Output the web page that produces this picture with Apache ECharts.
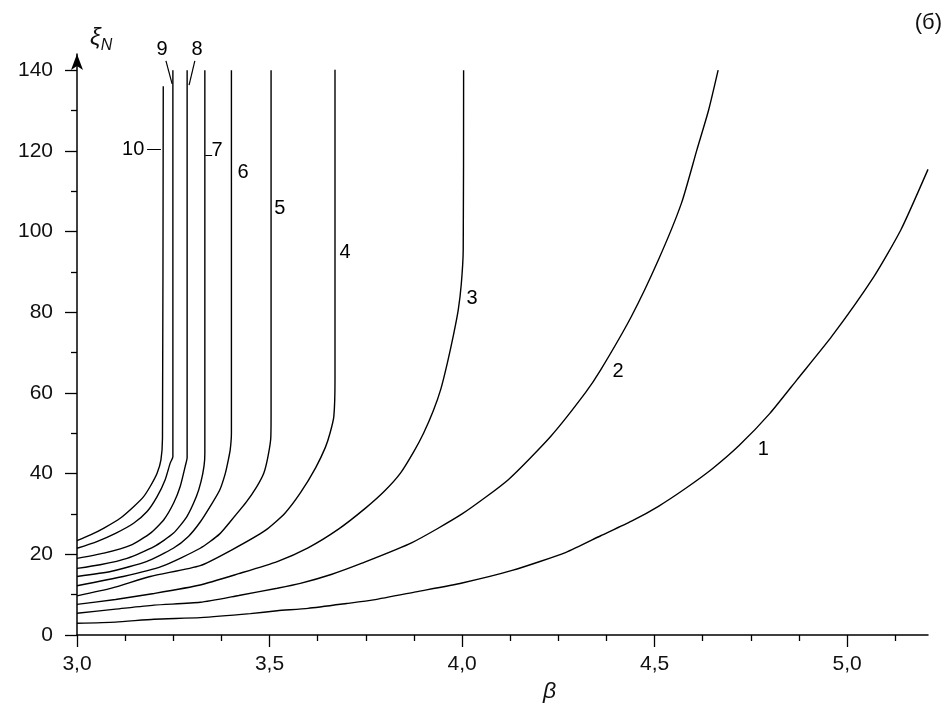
<!DOCTYPE html>
<html><head><meta charset="utf-8">
<script src="https://cdn.jsdelivr.net/npm/echarts@6/dist/echarts.min.js"></script>
<style>html,body{margin:0;padding:0;background:#fff}#c{width:946px;height:722px}</style>
</head><body><div id="c"></div>
<script>
// Tick labels
var xTicks = [3.0, 3.5, 4.0, 4.5, 5.0];
var yTicks = [0, 20, 40, 60, 80, 100, 120, 140];
// Curves: [beta, xi_N]
var curve1 = [[3.0,2.9],[3.1,3.2],[3.2,3.9],[3.32,4.3],[3.45,5.3],[3.52,6.0],[3.6,6.6],[3.7,7.8],[3.77,8.7],[3.88,10.7],[4.0,12.9],[4.13,16.0],[4.27,20.5],[4.36,24.6],[4.44,28.2],[4.51,31.9],[4.58,36.3],[4.65,41.2],[4.72,47.0],[4.80,55.0],[4.87,63.3],[4.96,74.0],[5.07,88.9],[5.14,100.5],[5.21,115.4]];
var curve2 = [[3.0,5.4],[3.1,6.4],[3.2,7.4],[3.32,8.1],[3.42,9.8],[3.52,11.6],[3.58,12.8],[3.66,15.0],[3.74,17.8],[3.87,22.9],[4.0,30.0],[4.12,38.5],[4.23,49.2],[4.32,60.0],[4.36,65.7],[4.44,79.0],[4.51,93.0],[4.57,107.1],[4.61,120.3],[4.64,130.0],[4.665,140]];
var curve3 = [[3.0,7.6],[3.1,8.8],[3.2,10.3],[3.32,12.4],[3.42,15.2],[3.52,18.2],[3.6,21.6],[3.68,26.3],[3.75,31.5],[3.80,35.8],[3.84,40.1],[3.875,45.5],[3.90,50.0],[3.925,55.5],[3.945,61.0],[3.962,67.5],[3.978,74.5],[3.99,80.5],[3.998,87.0],[4.003,95.5],[4.004,140]];
var curve4 = [[3.0,9.7],[3.09,11.6],[3.19,14.5],[3.32,17.2],[3.40,21.0],[3.49,26.0],[3.54,30.2],[3.58,35.2],[3.62,41.5],[3.645,46.5],[3.657,50.0],[3.667,54.2],[3.670,63.3],[3.670,140]];
var curve5 = [[3.0,12.2],[3.12,14.5],[3.22,17.0],[3.32,21.5],[3.37,25.0],[3.41,29.5],[3.44,33.0],[3.467,36.8],[3.485,40.1],[3.495,43.8],[3.503,48.5],[3.504,54.2],[3.504,140]];
var curve6 = [[3.0,14.5],[3.09,15.8],[3.18,18.2],[3.25,21.5],[3.29,24.5],[3.32,28.0],[3.35,32.5],[3.371,36.0],[3.385,40.0],[3.393,43.4],[3.398,46.0],[3.401,50.0],[3.401,140]];
var curve7 = [[3.0,16.5],[3.06,17.4],[3.13,19.0],[3.2,21.9],[3.25,25.2],[3.285,29.3],[3.31,34.3],[3.322,38.0],[3.33,42.0],[3.332,45.0],[3.332,140]];
var curve8 = [[3.0,19.0],[3.07,20.3],[3.14,22.3],[3.19,25.2],[3.225,28.5],[3.251,32.7],[3.268,36.8],[3.281,41.8],[3.286,44.0],[3.286,140]];
var curve9 = [[3.0,21.5],[3.05,23.1],[3.10,25.2],[3.147,27.7],[3.182,30.6],[3.208,34.3],[3.229,38.5],[3.242,42.6],[3.249,44.2],[3.249,140]];
var curve10 = [[3.0,23.4],[3.035,24.8],[3.07,26.5],[3.113,29.0],[3.147,31.8],[3.173,34.3],[3.19,36.8],[3.208,40.1],[3.218,43.4],[3.222,48.8],[3.224,136]];
var curves = [curve1,curve2,curve3,curve4,curve5,curve6,curve7,curve8,curve9,curve10];
// Curve number labels: [beta, xi, text]
var curveLabels = [[4.782,46.1,'1'],[4.405,65.2,'2'],[4.026,83.5,'3'],[3.696,94.7,'4'],[3.527,105.8,'5'],[3.431,114.7,'6'],[3.364,120.2,'7'],[3.312,145.0,'8'],[3.221,145.0,'9'],[3.146,120.4,'10']];
// Leader lines from label to curve
var leaders = [[[3.182,120.4],[3.218,120.4]],[[3.231,142.3],[3.247,136.6]],[[3.306,142.3],[3.291,136.3]],[[3.333,119.0],[3.351,119.0]]];

var xMinor = [], yMinor = [];
for (var i = 0; i < xTicks.length; i++) for (var k = 1; k < 4; k++) xMinor.push(+(xTicks[i] + k * 0.125).toFixed(3));
for (var j = 0; j < yTicks.length - 1; j++) yMinor.push(yTicks[j] + 10);

var FONT = 'Liberation Sans';
var axisLineStyle = {color: '#000', width: 1.5};
var series = curves.map(function (c, idx) {
  return {type: 'line', name: 'c' + (idx + 1), data: c, showSymbol: false, symbol: 'none', smooth: 0.2,
    lineStyle: {color: '#000', width: 1.4}, xAxisIndex: 0, yAxisIndex: 0, animation: false, silent: true};
});
series.push({type: 'scatter', data: curveLabels.map(function (d) { return {value: [d[0], d[1]], name: d[2]}; }),
  symbolSize: 1, itemStyle: {color: '#fff', opacity: 0}, clip: false, silent: true,
  label: {show: true, position: 'inside', formatter: '{b}', color: '#000', opacity: 1, textBorderWidth: 0,
    fontFamily: FONT, fontSize: 20}});
series.push({type: 'lines', coordinateSystem: 'cartesian2d', data: leaders.map(function (l) { return {coords: l}; }),
  lineStyle: {color: '#000', width: 1.2, opacity: 1}, silent: true});

var chart = echarts.init(document.getElementById('c'), null, {renderer: 'canvas'});
chart.setOption({
  animation: false,
  grid: {left: 77, right: 18, top: 54, bottom: 87, containLabel: false},
  xAxis: [{
    type: 'value', min: 3, max: 5.21, interval: 0.5, position: 'bottom',
    axisLine: {onZero: false, lineStyle: axisLineStyle},
    axisTick: {inside: false, length: 12, customValues: xTicks, lineStyle: {color: '#000', width: 1.3}},
    axisLabel: {customValues: xTicks, margin: 19, fontFamily: FONT, fontSize: 21, color: '#111',
      formatter: function (v) { return v.toFixed(1).replace('.', ','); }},
    splitLine: {show: false}
  }, {
    type: 'value', min: 3, max: 5.21, position: 'bottom',
    axisLine: {show: false},
    axisTick: {inside: false, length: 6, customValues: xMinor, lineStyle: {color: '#000', width: 1.3}},
    axisLabel: {show: false}, splitLine: {show: false}
  }],
  yAxis: [{
    type: 'value', min: 0, max: 144, interval: 20, position: 'left',
    axisLine: {show: true, onZero: false, lineStyle: axisLineStyle, symbol: ['none', 'arrow'], symbolSize: [9, 16]},
    axisTick: {show: true, inside: false, length: 12, customValues: yTicks, lineStyle: {color: '#000', width: 1.3}},
    axisLabel: {customValues: yTicks, margin: 24, fontFamily: FONT, fontSize: 21, color: '#111'},
    splitLine: {show: false}
  }, {
    type: 'value', min: 0, max: 144, position: 'left',
    axisLine: {show: false},
    axisTick: {show: true, inside: false, length: 6, customValues: yMinor, lineStyle: {color: '#000', width: 1.3}},
    axisLabel: {show: false}, splitLine: {show: false}
  }],
  graphic: [
    {type: 'text', left: 90, top: 26, style: {
      text: '{a|ξ}{b|N}', fill: '#111',
      rich: {a: {fontFamily: FONT, fontStyle: 'italic', fontSize: 24, fill: '#111'},
             b: {fontFamily: FONT, fontStyle: 'italic', fontSize: 16, fill: '#111', padding: [16, 0, 0, 0]}}}},
    {type: 'text', left: 543, top: 680, style: {text: 'β', fontFamily: FONT, fontStyle: 'italic', fontSize: 23, fill: '#111'}},
    {type: 'text', right: 4, top: 12, style: {text: '(б)', fontFamily: FONT, fontSize: 22, fill: '#111'}}
  ],
  series: series
});
</script></body></html>
